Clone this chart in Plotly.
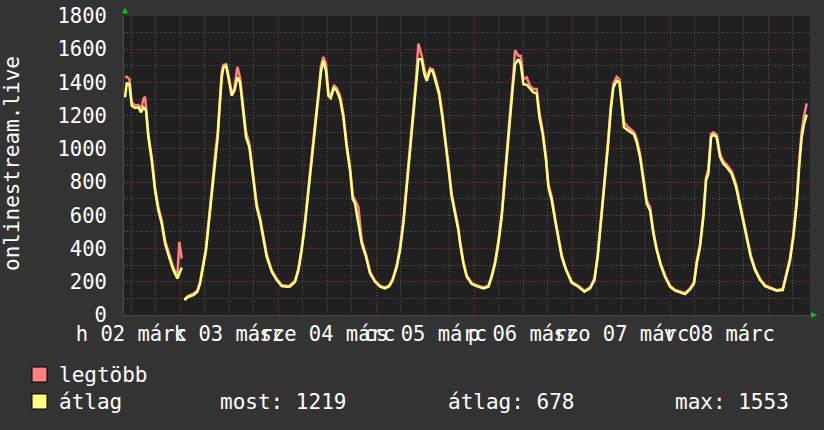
import plotly.graph_objects as go
import pandas as pd

# ---------------- data ----------------
base_time = "2020-03-01 00:00"
hours_since_mar1 = [
    10.46, 10.87, 11.52, 12.09, 12.91, 13.72, 14.38, 14.95, 15.36, 15.60, 16.17, 16.99, 17.80, 18.62,
    19.44, 20.25, 21.48, 22.29, 23.27, 23.76, 24.34, 24.60, 24.99, 25.97, 27.19, 28.17, 28.83, 29.64,
    30.29, 30.87, 31.44, 32.09, 32.66, 33.15, 33.56, 34.13, 34.54, 35.19, 35.76, 36.58, 37.23, 37.97,
    38.62, 39.27, 40.09, 40.91, 41.48, 42.13, 42.70, 43.52, 44.33, 45.15, 46.38, 47.60, 48.82, 50.05,
    50.87, 52.09, 52.91, 53.72, 54.54, 55.36, 56.17, 56.99, 57.80, 58.46, 59.03, 59.68, 60.25, 60.83,
    61.64, 62.30, 63.11, 63.93, 64.74, 65.56, 66.21, 66.78, 67.60, 68.42, 69.48, 70.46, 71.68, 72.91,
    74.13, 75.19, 76.01, 76.99, 77.80, 78.62, 79.44, 80.25, 81.07, 81.72, 82.30, 83.11, 83.76, 84.33,
    85.15, 85.80, 86.54, 87.36, 88.17, 88.83, 89.64, 90.46, 91.27, 92.09, 92.50, 93.32, 94.13, 95.36,
    96.58, 98.21, 99.44, 100.26, 101.07, 101.89, 102.70, 103.28, 103.93, 104.74, 105.40, 105.97, 106.79,
    107.36, 108.01, 108.83, 109.64, 110.46, 111.28, 111.93, 112.74, 113.56, 114.13, 114.95, 115.77,
    116.58, 117.40, 118.46, 119.85, 121.48, 122.95, 124.34, 125.40, 126.21, 126.95, 127.60, 128.17,
    128.83, 129.40, 130.05, 130.87, 131.52, 132.09, 132.66, 133.72, 134.54, 135.11, 135.76, 136.58,
    137.40, 138.21, 139.03, 139.84, 140.66, 141.64, 142.70, 143.93, 145.15, 146.37, 147.60, 148.82,
    149.80, 150.46, 151.27, 152.09, 152.74, 153.31, 153.97, 154.54, 155.35, 156.17, 156.99, 157.80,
    159.03, 160.09, 161.07, 161.89, 162.70, 163.68, 164.74, 165.97, 167.19, 168.42, 170.05, 171.52,
    172.34, 173.31, 174.13, 174.95, 175.60, 176.17, 176.74, 177.40,
]
atlag = [
    1310, 1394, 1390, 1260, 1246, 1250, 1220, 1250, 1240, 1230, 1070, 930, 750, 630,
    550, 430, 330, 270, 220, 250, 286, None, 90, 110, 120, 140, 190, 290,
    390, 530, 670, 830, 970, 1070, 1230, 1430, 1490, 1500, 1430, 1320, 1350, 1430,
    1400, 1270, 1070, 1010, 890, 770, 650, 570, 470, 350, 260, 210, 174, 170,
    172, 200, 270, 390, 550, 750, 950, 1130, 1310, 1470, 1530, 1470, 1320, 1306,
    1370, 1350, 1300, 1190, 1010, 870, 700, 670, 550, 430, 350, 250, 200, 170,
    160, 174, 210, 290, 390, 550, 770, 990, 1230, 1390, 1540, 1540, 1450, 1410,
    1470, 1470, 1410, 1330, 1190, 1070, 890, 710, 610, 510, 430, 310, 230, 186,
    174, 160, 170, 230, 310, 430, 590, 770, 970, 1190, 1370, 1510, 1540,
    1510, 1390, 1386, 1360, 1340, 1334, 1190, 1090, 930, 770, 690, 570,
    450, 350, 270, 194, 170, 140, 160, 210, 350, 530, 690, 870,
    1050, 1230, 1370, 1410, 1400, 1270, 1130, 1110, 1095, 1086, 1040, 950,
    810, 670, 630, 490, 390, 300, 230, 170, 146, 134, 126, 154,
    190, 310, 410, 590, 810, 850, 1070, 1086, 1070, 950, 910, 890,
    850, 770, 650, 550, 470, 350, 270, 210, 174, 160, 146, 150,
    230, 330, 470, 670, 910, 1070, 1150, 1206,
]
legtobb = [
    1430, 1435, 1420, 1280, 1262, 1265, 1240, 1300, 1314, 1250, 1090, 950, 770, 650,
    570, 450, 345, 285, 235, 440, 340, None, 95, 115, 128, 148, 200, 305,
    410, 550, 700, 860, 1000, 1100, 1270, 1460, 1505, 1510, 1450, 1335, 1365, 1494,
    1430, 1290, 1100, 1030, 910, 790, 670, 585, 485, 365, 270, 218, 180, 176,
    178, 206, 280, 405, 570, 775, 975, 1155, 1335, 1500, 1554, 1510, 1340, 1320,
    1385, 1365, 1320, 1210, 1030, 890, 720, 690, 650, 450, 362, 260, 206, 176,
    165, 180, 218, 300, 410, 575, 800, 1020, 1260, 1420, 1634, 1560, 1480, 1430,
    1485, 1480, 1425, 1345, 1210, 1090, 910, 730, 625, 525, 445, 320, 240, 192,
    180, 166, 176, 240, 322, 450, 610, 800, 1000, 1220, 1400, 1594, 1560,
    1560, 1420, 1430, 1380, 1360, 1360, 1220, 1110, 950, 790, 710, 585,
    465, 362, 278, 200, 176, 146, 166, 220, 365, 550, 715, 895,
    1075, 1255, 1395, 1434, 1420, 1300, 1160, 1130, 1115, 1100, 1060, 970,
    830, 690, 650, 505, 400, 310, 238, 176, 152, 140, 132, 160,
    200, 325, 425, 610, 830, 880, 1090, 1100, 1085, 970, 925, 905,
    865, 790, 670, 570, 485, 362, 280, 218, 180, 165, 150, 156,
    240, 345, 490, 700, 940, 1110, 1200, 1274,
]
day_labels = ["h 02 márc", "k 03 márc", "sze 04 márc", "cs 05 márc",
              "p 06 márc", "szo 07 márc", "v 08 márc"]
y_ticks = [0, 200, 400, 600, 800, 1000, 1200, 1400, 1600, 1800]
series_names = ["legtöbb", "átlag"]
stats_labels = ["most: 1219", "átlag: 678", "max: 1553"]
y_title = "onlinestream.live"

# ---------------- styling / geometry ----------------
W, H = 824, 430
L, R, T, B = 124, 810, 16, 315
FONT = "DejaVu Sans Mono"
RED = "#ff8080"
YEL = "#ffff80"
BG = "#333333"
PLOT_BG = "#202020"
MINOR_GRID = "#585858"
MAJOR_GRID = "#804040"
DOTS = "1px,2px"


def px(x):
    return (x - L) / (R - L)


def py(y):
    return (B - y) / (B - T)


t0 = pd.Timestamp(base_time)
times = [t0 + pd.Timedelta(hours=h) for h in hours_since_mar1]
x_start = t0 + pd.Timedelta(hours=10.2)
x_end = t0 + pd.Timedelta(hours=178.2)
midnights = [t0 + pd.Timedelta(days=d) for d in range(1, 8)]
six_hours = [t0 + pd.Timedelta(hours=h) for h in range(12, 178, 6)]

fig = go.Figure()
fig.add_trace(go.Scatter(x=times, y=legtobb, mode="lines", name=series_names[0],
                         line=dict(color=RED, width=2.5), connectgaps=False, showlegend=False))
fig.add_trace(go.Scatter(x=times, y=atlag, mode="lines", name=series_names[1],
                         line=dict(color=YEL, width=2.5), connectgaps=False, showlegend=False))

fig.update_layout(
    width=W, height=H, hovermode=False,
    margin=dict(l=L, r=W - R, t=T, b=H - B, pad=0, autoexpand=False),
    paper_bgcolor=BG, plot_bgcolor=PLOT_BG,
    font=dict(family=FONT, color="#ffffff", size=20),
    xaxis=dict(
        type="date", range=[x_start, x_end], automargin=False,
        tickmode="array", tickvals=midnights, ticktext=day_labels,
        ticklabelshift=-49, ticklabelstandoff=0,
        tickangle=0, ticks="", showgrid=True, gridcolor=MAJOR_GRID, griddash=DOTS, gridwidth=1,
        tickfont=dict(family=FONT, size=20.5, color="#ffffff"),
        minor=dict(tickmode="array", tickvals=six_hours, showgrid=True,
                   gridcolor=MINOR_GRID, griddash=DOTS, gridwidth=1, ticks=""),
        showline=True, linecolor="#4a4a4a", linewidth=1, zeroline=False, fixedrange=True,
    ),
    yaxis=dict(
        range=[0, 1800], tickmode="array", tickvals=y_ticks, automargin=False,
        ticks="", ticklabelstandoff=12,
        showgrid=True, gridcolor=MAJOR_GRID, griddash=DOTS, gridwidth=1,
        tickfont=dict(family=FONT, size=20.5, color="#ffffff"),
        minor=dict(dtick=100, showgrid=True, gridcolor=MINOR_GRID, griddash=DOTS, gridwidth=1, ticks=""),
        showline=True, linecolor="#4a4a4a", linewidth=1, zeroline=False, fixedrange=True,
    ),
)

annotations = []
shapes = []

# y-axis title
annotations.append(dict(xref="paper", yref="paper", x=px(12), y=py(164), text=y_title,
                        textangle=-90, showarrow=False, xanchor="center", yanchor="middle",
                        font=dict(family=FONT, size=21, color="#ffffff")))

# legend
legend_rows = [(374.5, RED, series_names[0]), (401.5, YEL, series_names[1])]
for yc, col, name in legend_rows:
    shapes.append(dict(type="rect", xref="paper", yref="paper",
                       x0=px(32), x1=px(47), y0=py(yc + 7.5), y1=py(yc - 7.5),
                       fillcolor=col, line=dict(color="#000000", width=1), layer="above"))
    annotations.append(dict(xref="paper", yref="paper", x=px(57), y=py(yc), text=name,
                            showarrow=False, xanchor="left", yanchor="middle",
                            font=dict(family=FONT, size=21, color="#ffffff")))

for xs, txt in zip([218, 446, 673], stats_labels):
    annotations.append(dict(xref="paper", yref="paper", x=px(xs), y=py(401.5), text=txt,
                            showarrow=False, xanchor="left", yanchor="middle",
                            font=dict(family=FONT, size=21, color="#ffffff")))

# green axis arrows
shapes.append(dict(type="path", xref="paper", yref="paper",
                   path=f"M {px(122)},{py(13.5)} L {px(128)},{py(13.5)} L {px(125)},{py(7.5)} Z",
                   fillcolor="#00cc00", line=dict(width=0), layer="above"))
shapes.append(dict(type="path", xref="paper", yref="paper",
                   path=f"M {px(811)},{py(312)} L {px(811)},{py(318)} L {px(817)},{py(315)} Z",
                   fillcolor="#00cc00", line=dict(width=0), layer="above"))

fig.update_layout(annotations=annotations, shapes=shapes)
fig.write_html("out.html", config={"displayModeBar": False, "staticPlot": True},
               post_script="document.body.style.margin='0';document.body.style.background='%s';" % BG)
